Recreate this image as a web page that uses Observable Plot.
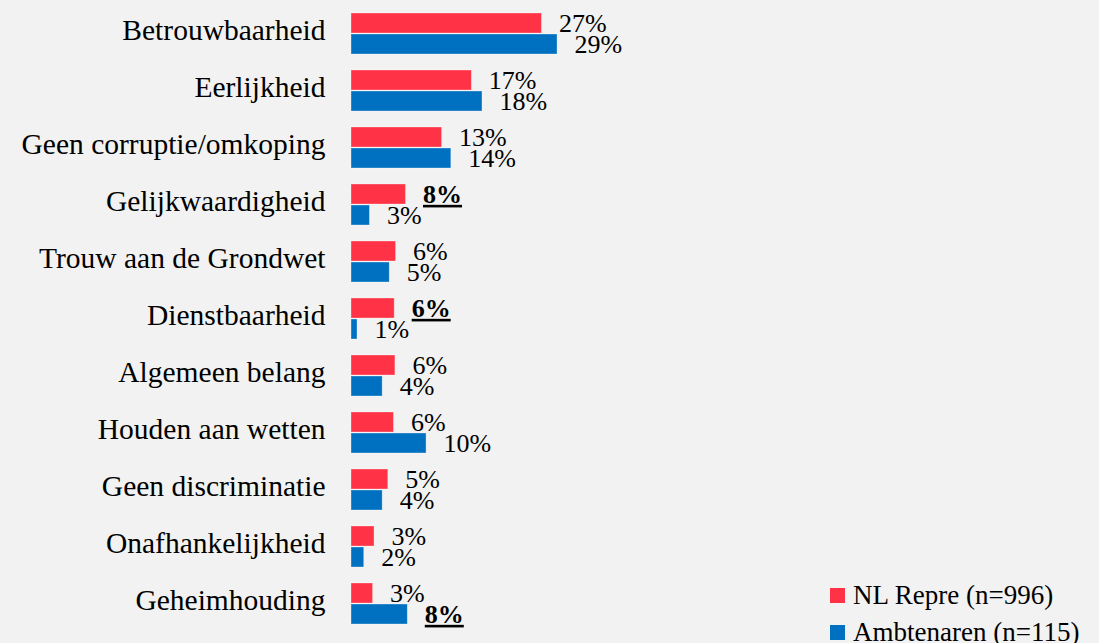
<!DOCTYPE html>
<html>
<head>
<meta charset="utf-8">
<script src="https://cdn.jsdelivr.net/npm/d3@7"></script>
<script src="https://cdn.jsdelivr.net/npm/@observablehq/plot@0.6"></script>
<style>
  html, body { margin: 0; padding: 0; background: #f2f2f2; overflow: hidden; }
  #wrap { position: relative; width: 1099px; height: 643px; }
  #legend { position: absolute; left: 830px; top: 577px; font-family: "Liberation Serif", serif; font-size: 27px; color: #000; white-space: nowrap; }
  #legend .row { height: 37px; line-height: 37px; display: flex; align-items: center; }
  #legend .sw { width: 15px; height: 15px; margin-right: 8px; display: inline-block; }
  svg text { font-family: "Liberation Serif", serif; }
</style>
</head>
<body>
<div id="wrap"><div id="chart"></div><div id="legend"></div></div>
<script>
const categories = ["Betrouwbaarheid", "Eerlijkheid", "Geen corruptie/omkoping", "Gelijkwaardigheid", "Trouw aan de Grondwet", "Dienstbaarheid", "Algemeen belang", "Houden aan wetten", "Geen discriminatie", "Onafhankelijkheid", "Geheimhouding"];
const seriesNames = ["NL Repre (n=996)", "Ambtenaren (n=115)"];
const seriesColors = ["#ff3246", "#0070c0"];
const nlValues = [26.9, 17.0, 12.8, 7.7, 6.3, 6.1, 6.2, 6.0, 5.2, 3.25, 3.05];
const ambValues = [29.1, 18.5, 14.1, 2.6, 5.4, 0.85, 4.4, 10.6, 4.4, 1.8, 7.95];
const nlLabels = [27, 17, 13, 8, 6, 6, 6, 6, 5, 3, 3];
const ambLabels = [29, 18, 14, 3, 5, 1, 4, 10, 4, 2, 8];
const nlEmphasis = [false, false, false, true, false, true, false, false, false, false, false];
const ambEmphasis = [false, false, false, false, false, false, false, false, false, false, true];

const data = [];
categories.forEach((c, i) => {
  data.push({category: c, series: seriesNames[0], value: nlValues[i], label: nlLabels[i], bold: nlEmphasis[i]});
  data.push({category: c, series: seriesNames[1], value: ambValues[i], label: ambLabels[i], bold: ambEmphasis[i]});
});

const font = "Liberation Serif";
const chart = Plot.plot({
  width: 1099,
  height: 643,
  marginLeft: 351,
  marginRight: 40,
  marginTop: 11,
  marginBottom: 19,
  style: {background: "#f2f2f2", fontFamily: font, fontSize: "29.5px", color: "#000"},
  x: {domain: [0, 100], axis: null},
  y: {domain: seriesNames, axis: null, paddingInner: 0.06, paddingOuter: 0},
  fy: {domain: categories, axis: "left", label: null, tickSize: 0, tickPadding: 26, paddingInner: 0.265, paddingOuter: 0},
  color: {domain: seriesNames, range: seriesColors},
  marks: [
    Plot.barX(data, {x: "value", y: "series", fy: "category", fill: "series", stroke: "#ffffff", strokeOpacity: 0.4, strokeWidth: 0.8}),
    Plot.text(data.filter(d => !d.bold), {x: "value", y: "series", fy: "category", text: d => d.label + "%", textAnchor: "start", dx: 17, fontSize: 26, fontFamily: font, fill: "#000"}),
    Plot.text(data.filter(d => d.bold), {x: "value", y: "series", fy: "category", text: d => d.label + "%", textAnchor: "start", dx: 17, fontSize: 26, fontFamily: font, fontWeight: "bold", fill: "#000"})
  ]
});
chart.querySelectorAll('g[font-weight="bold"] text').forEach(t => t.style.textDecoration = "underline");
chart.querySelectorAll('g[aria-label^="fy-axis"]').forEach(g => {
  const t = g.getAttribute("transform") || "";
  g.setAttribute("transform", (t + " translate(0,-3)").trim());
});
document.getElementById("chart").appendChild(chart);

const legend = document.getElementById("legend");
seriesNames.forEach((s, i) => {
  const row = document.createElement("div");
  row.className = "row";
  const sw = document.createElement("span");
  sw.className = "sw";
  sw.style.background = seriesColors[i];
  row.appendChild(sw);
  row.appendChild(document.createTextNode(s));
  legend.appendChild(row);
});
</script>
</body>
</html>
